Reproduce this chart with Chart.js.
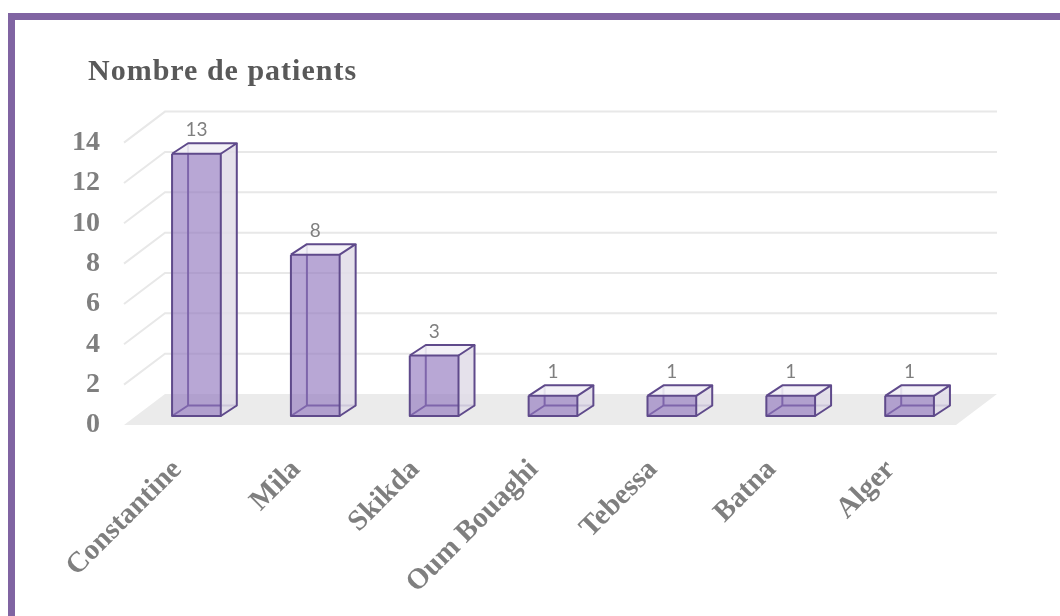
<!DOCTYPE html>
<html>
<head>
<meta charset="utf-8">
<script src="https://cdn.jsdelivr.net/npm/chart.js@4"></script>
<style>
  html, body { margin: 0; padding: 0; background: #fff; overflow: hidden; }
  .frame {
    position: absolute; left: 8px; top: 13px; width: 1060px; height: 620px;
    border-left: 7px solid #8064a2; border-top: 7px solid #8064a2;
  }
  #chart { position: absolute; left: 0; top: 0; }
</style>
</head>
<body>
<div class="frame"></div>
<canvas id="chart" width="1060" height="616"></canvas>
<script>
const chartTitle = 'Nombre de patients';
const wilayas = ['Constantine', 'Mila', 'Skikda', 'Oum Bouaghi', 'Tebessa', 'Batna', 'Alger'];
const patients = [13, 8, 3, 1, 1, 1, 1];
const yTicks = [0, 2, 4, 6, 8, 10, 12, 14];

// depth of the floor / back wall, and where the boxes sit inside it
const DEPTH = { x: 41, y: -31 };
const BAR_SHIFT = { x: 13, y: -9 };
const BAR_DEPTH = { x: 16, y: -10.5 };

const axisFont = { family: 'Liberation Serif', size: 28, weight: 'bold' };

function line(ctx, pts) {
  ctx.beginPath();
  ctx.moveTo(pts[0][0], pts[0][1]);
  for (let i = 1; i < pts.length; i++) ctx.lineTo(pts[i][0], pts[i][1]);
  ctx.stroke();
}

function poly(ctx, pts, fill) {
  ctx.beginPath();
  ctx.moveTo(pts[0][0], pts[0][1]);
  for (let i = 1; i < pts.length; i++) ctx.lineTo(pts[i][0], pts[i][1]);
  ctx.closePath();
  ctx.fillStyle = fill;
  ctx.fill();
}

const box3d = {
  id: 'box3d',
  beforeDatasetsDraw(chart) {
    const { ctx, chartArea: a, scales: { y } } = chart;
    ctx.save();
    // side wall + back wall grid lines
    ctx.strokeStyle = '#e8e8e8';
    ctx.lineWidth = 2;
    yTicks.forEach(v => {
      if (v === 0) return;
      const py = y.getPixelForValue(v);
      line(ctx, [[a.left, py], [a.left + DEPTH.x, py + DEPTH.y], [a.right + DEPTH.x, py + DEPTH.y]]);
    });
    // floor
    const y0 = y.getPixelForValue(0);
    poly(ctx, [[a.left, y0], [a.left + DEPTH.x, y0 + DEPTH.y], [a.right + DEPTH.x, y0 + DEPTH.y], [a.right, y0]], '#ebebeb');
    ctx.restore();
  },
  afterDatasetsDraw(chart) {
    const { ctx } = chart;
    const meta = chart.getDatasetMeta(0);
    ctx.save();
    ctx.lineJoin = 'round';
    meta.data.forEach((bar, i) => {
      const { x, y, base, width } = bar.getProps(['x', 'y', 'base', 'width'], true);
      const l = x - width / 2 + BAR_SHIFT.x, r = x + width / 2 + BAR_SHIFT.x;
      const t = y + BAR_SHIFT.y, b = base + BAR_SHIFT.y;
      const dx = BAR_DEPTH.x, dy = BAR_DEPTH.y;

      // hidden edges, seen through the front face
      ctx.strokeStyle = '#5f4a8b';
      ctx.lineWidth = 2;
      line(ctx, [[l, b], [l + dx, b + dy], [r + dx, b + dy]]);
      line(ctx, [[l + dx, b + dy], [l + dx, t + dy]]);

      // faces
      poly(ctx, [[r, t], [r + dx, t + dy], [r + dx, b + dy], [r, b]], 'rgba(224,220,232,0.85)');
      poly(ctx, [[l, t], [l + dx, t + dy], [r + dx, t + dy], [r, t]], 'rgba(242,240,246,0.9)');
      poly(ctx, [[l, t], [r, t], [r, b], [l, b]], 'rgba(144,118,190,0.64)');

      // visible edges
      line(ctx, [[l, t], [r, t], [r, b], [l, b], [l, t]]);
      line(ctx, [[l, t], [l + dx, t + dy], [r + dx, t + dy], [r, t]]);
      line(ctx, [[r + dx, t + dy], [r + dx, b + dy], [r, b]]);

      // value label
      ctx.fillStyle = '#7f7f7f';
      ctx.font = '19px Lato';
      ctx.textAlign = 'center';
      ctx.textBaseline = 'middle';
      ctx.fillText(String(patients[i]), (l + r) / 2, t - 24);
    });
    ctx.restore();
  },
  afterDraw(chart) {
    // chart title, left aligned above the y axis labels
    const { ctx } = chart;
    ctx.save();
    ctx.fillStyle = '#595959';
    ctx.font = 'bold 30px "Liberation Serif"';
    ctx.letterSpacing = '1px';
    ctx.textAlign = 'left';
    ctx.textBaseline = 'alphabetic';
    ctx.fillText(chartTitle, 88, 80);
    ctx.restore();
  }
};

new Chart(document.getElementById('chart'), {
  type: 'bar',
  data: {
    labels: wilayas,
    datasets: [{
      label: chartTitle,
      data: patients,
      backgroundColor: 'rgba(0,0,0,0)',
      borderWidth: 0,
      barPercentage: 0.41,
      categoryPercentage: 1
    }]
  },
  options: {
    responsive: false,
    animation: false,
    layout: { padding: { left: 40, right: 104, top: 142.6, bottom: 0 } },
    plugins: {
      legend: { display: false },
      tooltip: { enabled: false },
      title: { display: false }
    },
    scales: {
      x: {
        grid: { display: false },
        border: { display: false },
        ticks: {
          autoSkip: false,
          minRotation: 45,
          maxRotation: 45,
          labelOffset: -6,
          padding: 20,
          color: '#7f7f7f',
          font: { ...axisFont, size: 29 }
        },
        afterFit: s => { s.height = 191; }
      },
      y: {
        min: 0,
        max: 14,
        grid: { display: false },
        border: { display: false },
        afterBuildTicks: s => { s.ticks = yTicks.map(v => ({ value: v })); },
        ticks: { padding: 16, color: '#7f7f7f', font: axisFont },
        afterFit: s => { s.width = 84; }
      }
    }
  },
  plugins: [box3d]
});
</script>
</body>
</html>
